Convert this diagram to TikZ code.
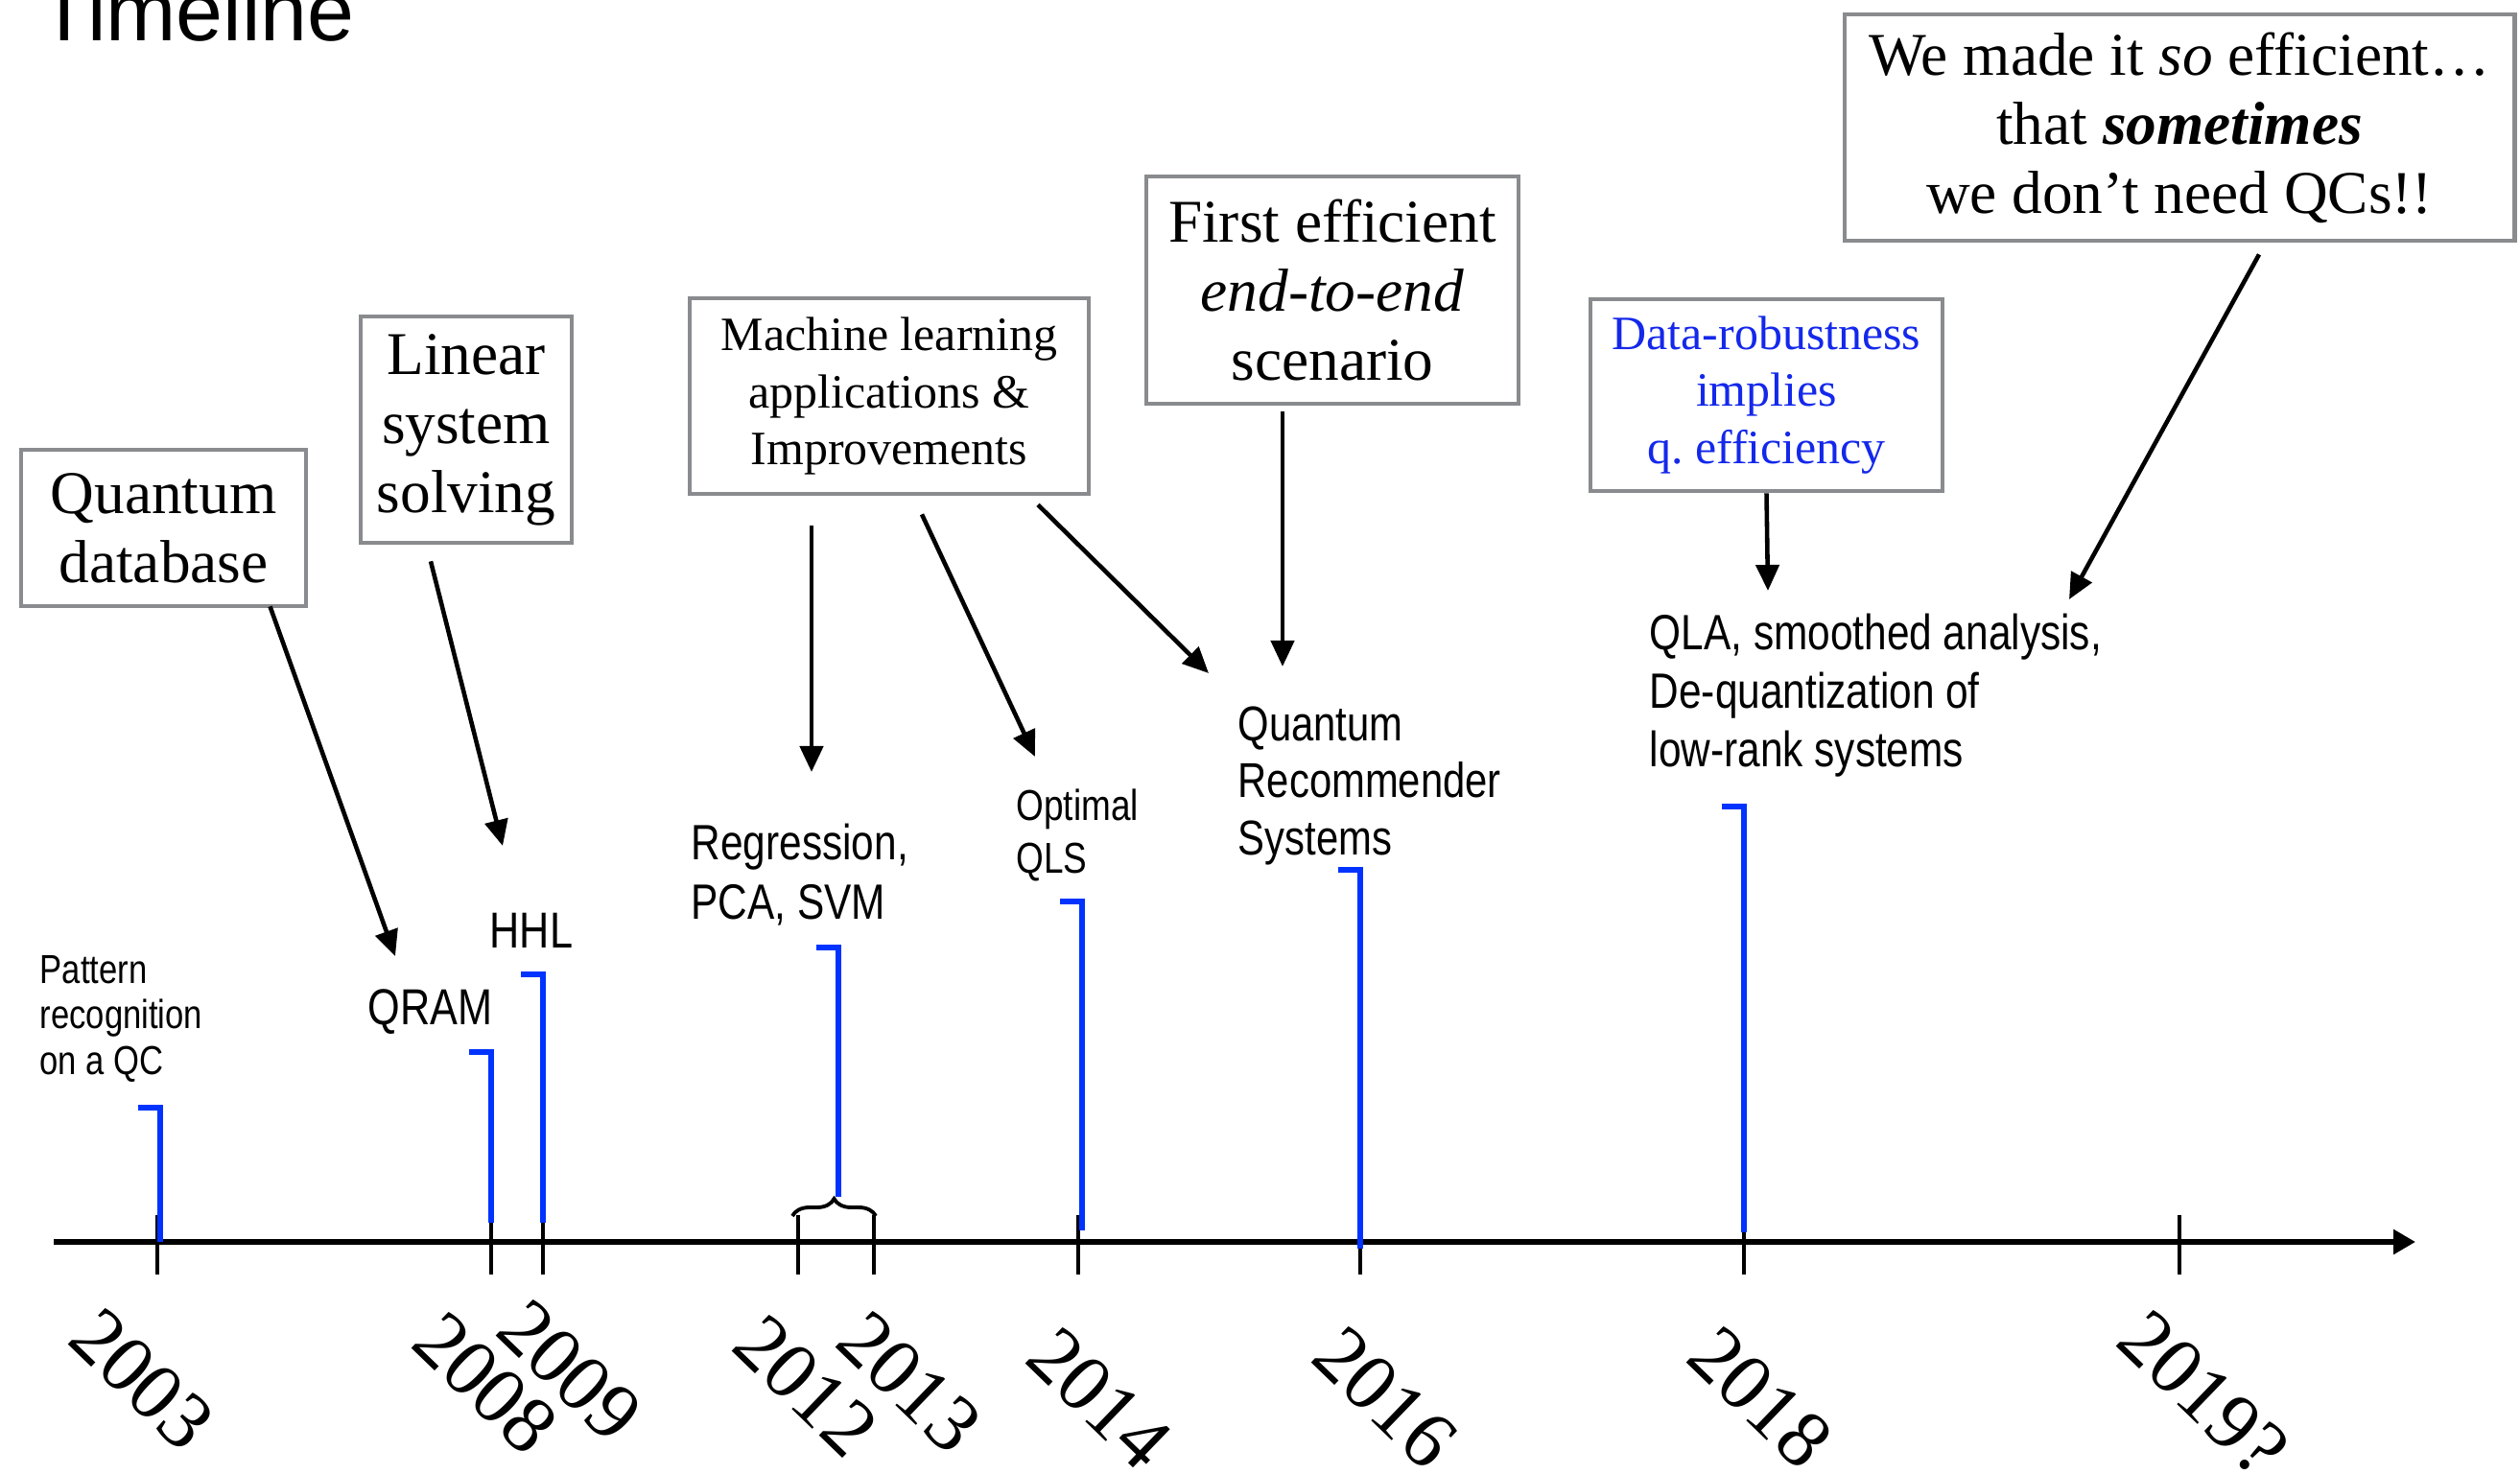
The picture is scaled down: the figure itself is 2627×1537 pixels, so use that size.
\documentclass[tikz,border=0pt]{standalone}
\usepackage{fontspec}
\usetikzlibrary{decorations.pathreplacing, arrows.meta, calc}

\newfontfamily\boxfont{Liberation Serif}
\newfontfamily\labelfont[FakeStretch=0.82]{Liberation Sans}
\newfontfamily\titlefont{Liberation Sans}
\definecolor{boxgray}{RGB}{137,139,142}
\definecolor{barblue}{RGB}{0,51,255}
\definecolor{noteblue}{RGB}{20,40,235}

\begin{document}
\begin{tikzpicture}[x=0.01cm, y=-0.01cm,
  idea/.style={draw=boxgray, line width=1.3pt, align=center, inner sep=0pt},
  big/.style={font=\boxfont\fontsize{18}{20.5}\selectfont},
  small/.style={font=\boxfont\fontsize{14.2}{17}\selectfont},
  result/.style={align=left, inner sep=0pt, anchor=base west},
  arr/.style={-{Triangle[length=0.27cm, width=0.24cm]}, line width=1.3pt},
  bar/.style={barblue, line width=1.7pt},
  year/.style={font=\boxfont\fontsize{24}{24}\selectfont, rotate=-44, inner sep=0pt}]

% Frame
\path[use as bounding box, clip] (0,0) rectangle (2627,1537);

% Title, cut at the top
\node[font=\titlefont\fontsize{25}{25}\selectfont, anchor=base west, inner sep=0pt] (title) at (40,43) {Timeline};

% Main timeline
\draw[-{Triangle[length=0.23cm, width=0.25cm]}, line width=1.6pt] (56,1295) -- (2518,1295);
\foreach \x in {164,512,566,832,911,1124,1418,1818,2272} {
    \draw[line width=1.1pt] (\x,1267) -- (\x,1329);
}
\draw[decorate, decoration={brace, amplitude=0.18cm}, line width=1.1pt] (826,1268) -- (913,1268);

% Years
\foreach \x/\y/\yr [count=\i] in {148/1438/2003, 506/1442/2008, 594/1429/2009, 840/1445/2012, 948/1441/2013, 1146/1458/2014, 1444/1457/2016, 1835/1457/2018, 2297/1453/2019?} {
    \node[year] (year\i) at (\x,\y) {\yr};
}

% Blue bars
\foreach \x/\ya/\yb in {167/1155/1295, 512/1097/1275, 566/1016/1275, 874/988/1248, 1128/940/1283, 1418/907/1302, 1818/841/1285} {
    \draw[bar] (\x-23,\ya) -- (\x,\ya) -- (\x,\yb);
}

% Idea boxes
\node[idea, big, minimum width=2.97cm, minimum height=1.63cm] (qdb) at (170.5,550.5) {Quantum\\database};
\node[idea, big, minimum width=2.20cm, minimum height=2.36cm] (lss) at (486,448) {Linear\\system\\solving};
\node[idea, small, minimum width=4.16cm, minimum height=2.04cm] (mlb) at (927,413) {Machine learning\\applications \&\\Improvements};
\node[idea, big, minimum width=3.88cm, minimum height=2.37cm] (feb) at (1389,302.5) {First efficient\\\textit{end-to-end}\\scenario};
\node[idea, small, text=noteblue, minimum width=3.67cm, minimum height=2.00cm] (drb) at (1841.5,412) {Data-robustness\\implies\\q.\ efficiency};
\node[idea, big, minimum width=6.98cm, minimum height=2.36cm] (wmb) at (2272,133) {We made it \textit{so} efficient…\\that \textbf{\textit{sometimes}}\\we don’t need QCs!!};

% Results (placed at the baseline of the last line)
\node[result, font=\labelfont\fontsize{12}{13.5}\selectfont] (pat) at (41,1120) {Pattern\\recognition\\on a QC};
\node[result, font=\labelfont\fontsize{15}{17.4}\selectfont] (qram) at (383,1068) {QRAM};
\node[result, font=\labelfont\fontsize{15}{17.4}\selectfont] (hhl) at (510,988) {HHL};
\node[result, font=\labelfont\fontsize{14.7}{17.4}\selectfont] (reg) at (720,958) {Regression,\\PCA, SVM};
\node[result, font=\labelfont\fontsize{12.8}{15.4}\selectfont] (qls) at (1059,910) {Optimal\\QLS};
\node[result, font=\labelfont\fontsize{14.5}{16.8}\selectfont] (qrs) at (1290,891) {Quantum\\Recommender\\Systems};
\node[result, font=\labelfont\fontsize{14.7}{17.4}\selectfont] (qla) at (1719,800) {QLA, smoothed analysis,\\De-quantization of\\low-rank systems};

% Arrow tips
\coordinate (qram-in) at (412,997);
\coordinate (hhl-in) at (524,882);
\coordinate (reg-in) at (846,805);
\coordinate (qls-in) at (1079,789);
\coordinate (qrs-in) at (1260,702);
\coordinate (qrs-top) at (1337,695);
\coordinate (qla-in) at (1843,616);
\coordinate (qla-top) at (2157,625);

% Arrows
\draw[arr] ($(qdb.south)+(111,-2)$) -- (qram-in);
\draw[arr] ($(lss.south)+(-37,17)$) -- (hhl-in);
\draw[arr] ($(mlb.south)+(-81,31)$) -- (reg-in);
\draw[arr] ($(mlb.south)+(34,19)$) -- (qls-in);
\draw[arr] ($(mlb.south)+(155,9)$) -- (qrs-in);
\draw[arr] ($(feb.south)+(-52,6)$) -- (qrs-top);
\draw[arr] (drb.south) -- (qla-in);
\draw[arr] ($(wmb.south)+(83,12)$) -- (qla-top);

\end{tikzpicture}
\end{document}
